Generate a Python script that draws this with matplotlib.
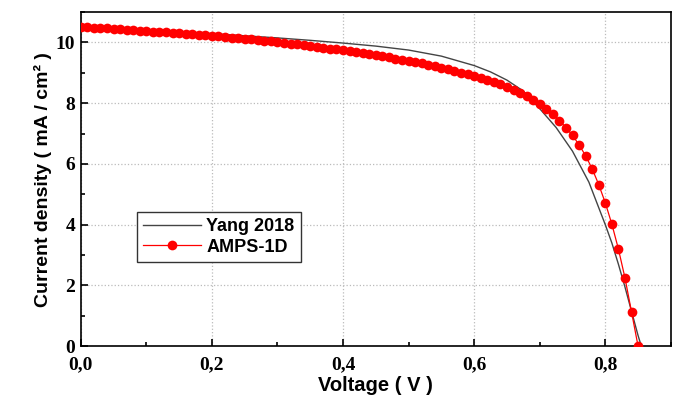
import numpy as np
import matplotlib.pyplot as plt
from matplotlib.ticker import MultipleLocator

# Yang 2018 (reference curve, thin dark line)
yang_v = [0.0, 0.05, 0.1, 0.15, 0.2, 0.25, 0.3, 0.35, 0.4, 0.45, 0.5, 0.55,
          0.6, 0.625, 0.65, 0.675, 0.7, 0.725, 0.75, 0.775, 0.8, 0.81, 0.82,
          0.83, 0.84, 0.85, 0.855]
yang_j = [10.55, 10.49, 10.43, 10.36, 10.29, 10.22, 10.15, 10.07, 9.98, 9.88,
          9.75, 9.55, 9.24, 9.03, 8.76, 8.40, 7.82, 7.20, 6.42, 5.40, 4.00,
          3.40, 2.70, 1.95, 1.15, 0.35, 0.0]

# AMPS-1D simulation (red dots, 0.01 V steps)
amps_v = [i / 100 for i in range(86)]
amps_j = [10.52, 10.51, 10.49, 10.48, 10.46, 10.45, 10.43, 10.42, 10.40, 10.39,
          10.37, 10.36, 10.34, 10.33, 10.31, 10.30, 10.28, 10.27, 10.25, 10.23,
          10.22, 10.20, 10.18, 10.16, 10.14, 10.12, 10.10, 10.08, 10.06, 10.04,
          10.01, 9.99, 9.96, 9.94, 9.91, 9.88, 9.86, 9.83, 9.80, 9.77,
          9.74, 9.71, 9.68, 9.65, 9.62, 9.58, 9.55, 9.51, 9.47, 9.43,
          9.39, 9.35, 9.31, 9.26, 9.22, 9.17, 9.12, 9.07, 9.01, 8.95,
          8.89, 8.83, 8.76, 8.69, 8.62, 8.54, 8.45, 8.35, 8.24, 8.11,
          7.97, 7.81, 7.63, 7.43, 7.20, 6.94, 6.63, 6.27, 5.84, 5.32,
          4.72, 4.02, 3.20, 2.25, 1.13, 0.00]

fig = plt.figure(figsize=(6.79, 4.03), dpi=100)
ax = fig.add_axes([0.119, 0.141, 0.869, 0.829])

ax.plot(yang_v, yang_j, '-', color='#444444', linewidth=1.0,
        label='Yang 2018', zorder=2)
ax.plot(amps_v, amps_j, '-', color='red', linewidth=0.9,
        marker='o', markersize=7, markeredgewidth=0, label='AMPS-1D', zorder=3)

ax.set_xlim(0, 0.9)
ax.set_ylim(0, 11)
ax.xaxis.set_minor_locator(MultipleLocator(0.1))
ax.yaxis.set_major_locator(MultipleLocator(2))
ax.yaxis.set_minor_locator(MultipleLocator(1))
ax.set_xticks([0, 0.2, 0.4, 0.6, 0.8])
ax.set_xticklabels(['0,0', '0,2', '0,4', '0,6', '0,8'])

ax.tick_params(which='both', direction='in', top=False, right=False, width=1.2)
ax.tick_params(which='major', length=5)
ax.tick_params(which='minor', length=3)
ax.tick_params(axis='x', pad=7)
ax.tick_params(axis='y', pad=4)
for lab in ax.get_xticklabels() + ax.get_yticklabels():
    lab.set_fontfamily('Liberation Serif')
    lab.set_fontweight('bold')
    lab.set_fontsize(14)

for s in ax.spines.values():
    s.set_linewidth(1.2)

ax.grid(which='major', linestyle=':', color='#bbbbbb', linewidth=0.9)

ax.set_xlabel('Voltage ( V )', fontfamily='Liberation Sans', fontweight='bold',
              fontsize=14.5, labelpad=2)
ax.set_ylabel('Current density ( mA / cm² )', fontfamily='Liberation Sans',
              fontweight='bold', fontsize=14, labelpad=3)

leg = ax.legend(loc='upper left', bbox_to_anchor=(0.095, 0.402), borderaxespad=0,
                fancybox=False, edgecolor='#333333', framealpha=1, borderpad=0.35,
                handlelength=3.2, handletextpad=0.3, labelspacing=0.2,
                prop={'family': 'Liberation Sans', 'weight': 'bold', 'size': 13})
leg.get_frame().set_linewidth(1.0)

plt.savefig('out.png', dpi=100)
plt.close()
